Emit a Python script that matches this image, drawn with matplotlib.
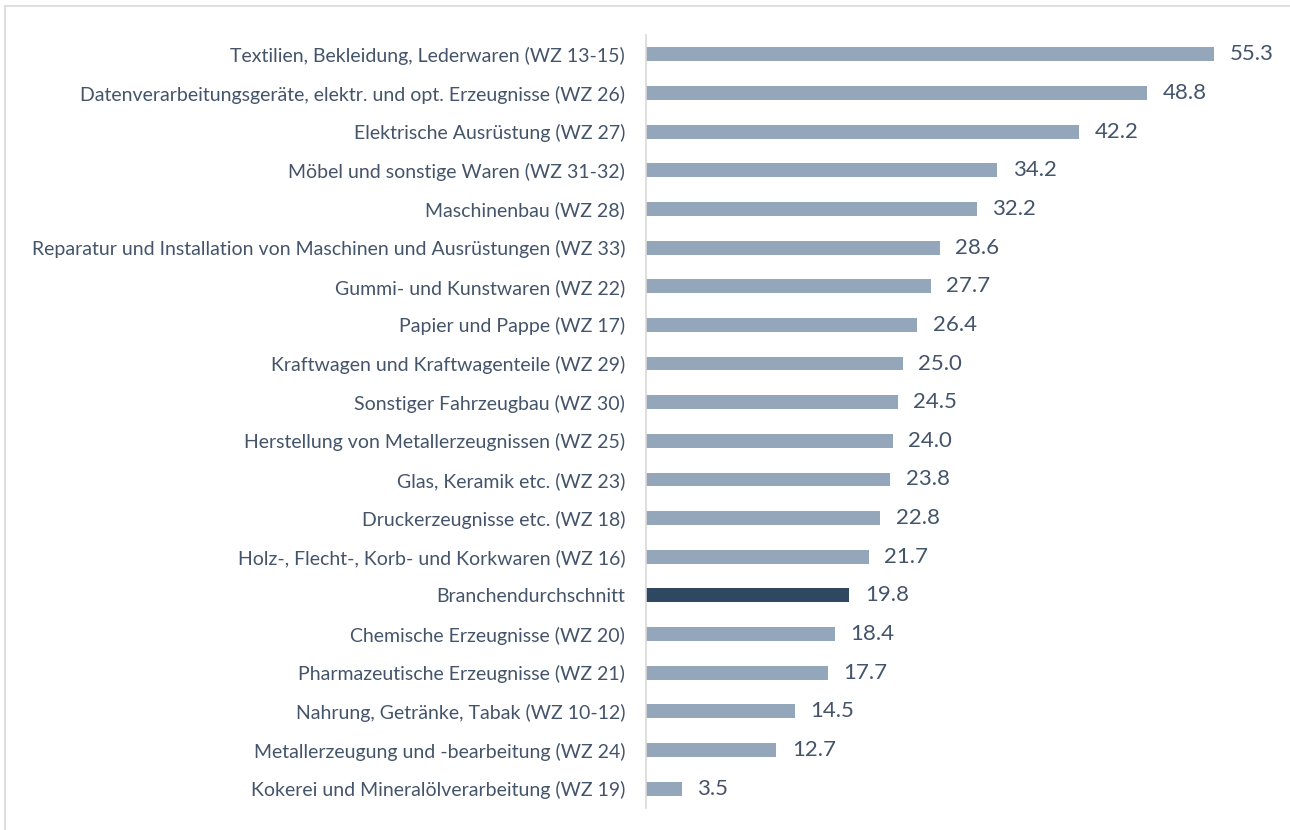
import matplotlib
matplotlib.use('Agg')
from matplotlib import pyplot as plt
from matplotlib.lines import Line2D

categories = [
    'Textilien, Bekleidung, Lederwaren (WZ 13-15)',
    'Datenverarbeitungsgeräte, elektr. und opt. Erzeugnisse (WZ 26)',
    'Elektrische Ausrüstung (WZ 27)',
    'Möbel und sonstige Waren (WZ 31-32)',
    'Maschinenbau (WZ 28)',
    'Reparatur und Installation von Maschinen und Ausrüstungen (WZ 33)',
    'Gummi- und Kunstwaren (WZ 22)',
    'Papier und Pappe (WZ 17)',
    'Kraftwagen und Kraftwagenteile (WZ 29)',
    'Sonstiger Fahrzeugbau (WZ 30)',
    'Herstellung von Metallerzeugnissen (WZ 25)',
    'Glas, Keramik etc. (WZ 23)',
    'Druckerzeugnisse etc. (WZ 18)',
    'Holz-, Flecht-, Korb- und Korkwaren (WZ 16)',
    'Branchendurchschnitt',
    'Chemische Erzeugnisse (WZ 20)',
    'Pharmazeutische Erzeugnisse (WZ 21)',
    'Nahrung, Getränke, Tabak (WZ 10-12)',
    'Metallerzeugung und -bearbeitung (WZ 24)',
    'Kokerei und Mineralölverarbeitung (WZ 19)',
]
values = [55.3, 48.8, 42.2, 34.2, 32.2, 28.6, 27.7, 26.4, 25.0, 24.5,
          24.0, 23.8, 22.8, 21.7, 19.8, 18.4, 17.7, 14.5, 12.7, 3.5]
highlight = 'Branchendurchschnitt'

text_col = '#44546A'
bar_col = '#94A7BA'
hi_col = '#2E4862'

plt.rcParams['font.family'] = ['Lato', 'DejaVu Sans']

fig = plt.figure(figsize=(12.9, 8.3), dpi=100)
ax = fig.add_axes([646 / 1290, 1 - 808 / 830, 1 - 646 / 1290, 773 / 830])

n = len(categories)
ypos = [n - 1 - i for i in range(n)]
colors = [hi_col if c == highlight else bar_col for c in categories]
ax.barh(ypos, values, height=0.36, color=colors)

for y, v in zip(ypos, values):
    ax.text(v + 1.5, y, f'{v:.1f}', va='center', ha='left', fontsize=16, color=text_col)

ax.set_yticks(ypos)
ax.set_yticklabels(categories, fontsize=14, color=text_col)
ax.tick_params(axis='y', length=0, pad=15)
ax.set_xticks([])
ax.set_xlim(0, 62.7)
ax.set_ylim(-0.5, n - 0.5)
for s in ['top', 'right', 'bottom']:
    ax.spines[s].set_visible(False)
ax.spines['left'].set_color('#D9D9D9')
ax.spines['left'].set_linewidth(1.2)

# light frame lines (top and left) round the chart
fig.lines.append(Line2D([5 / 1290, 1], [1 - 6 / 830, 1 - 6 / 830], transform=fig.transFigure,
                        color='#D9D9D9', linewidth=1.2))
fig.lines.append(Line2D([5 / 1290, 5 / 1290], [0, 1 - 6 / 830], transform=fig.transFigure,
                        color='#D9D9D9', linewidth=1.2))

fig.savefig('out.png', dpi=100)
